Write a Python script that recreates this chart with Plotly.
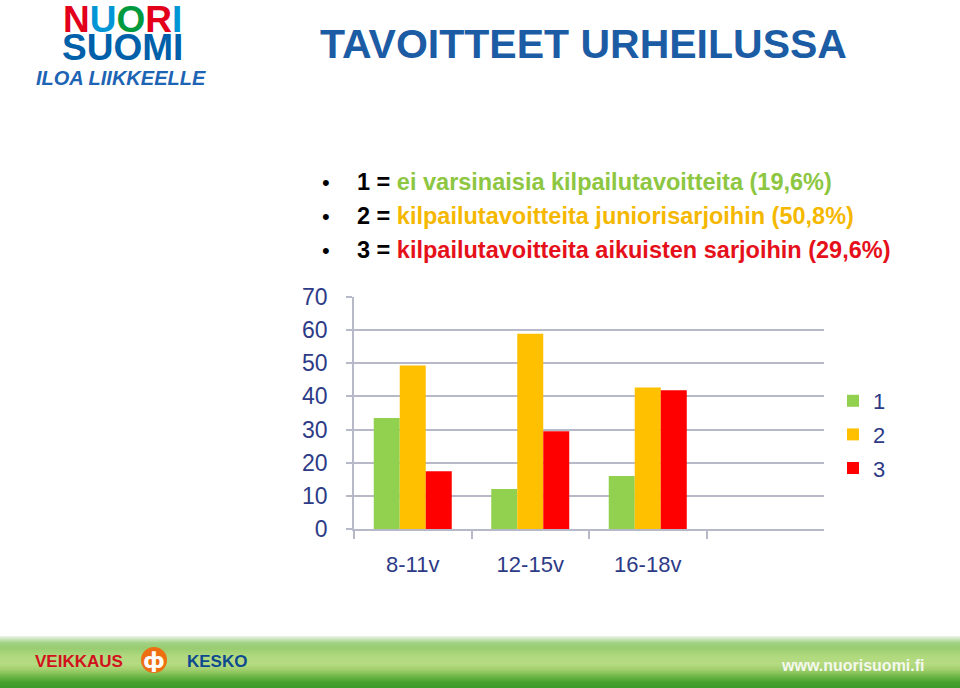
import plotly.graph_objects as go

W, H = 960, 688

categories = ["8-11v", "12-15v", "16-18v", " "]
series_names = ["1", "2", "3"]
values_1 = [33.5, 12.1, 16.0, None]
values_2 = [49.3, 58.9, 42.7, None]
values_3 = [17.4, 29.5, 41.9, None]
bar_colors = ["#92D050", "#FFC000", "#FF0000"]

y_ticks = [0, 10, 20, 30, 40, 50, 60, 70]

title_text = "TAVOITTEET URHEILUSSA"
bullet_labels = ["1 = ", "2 = ", "3 = "]
bullet_texts = [
    "ei varsinaisia kilpailutavoitteita (19,6%)",
    "kilpailutavoitteita juniorisarjoihin (50,8%)",
    "kilpailutavoitteita aikuisten sarjoihin (29,6%)",
]
bullet_colors = ["#8DC641", "#F5B800", "#E5101A"]

FONT = "Liberation Sans, Arial, sans-serif"
NAVY = "#2D3B87"
GRID = "#B7B9C9"


def px(x):
    return x / W


def py(y):
    return 1 - y / H


fig = go.Figure()
for name, vals, col in zip(series_names, [values_1, values_2, values_3], bar_colors):
    fig.add_trace(go.Bar(name=name, x=categories, y=vals, marker=dict(color=col, line=dict(width=0)),
                         legendgroup=name))

fig.update_layout(
    width=W, height=H,
    margin=dict(l=0, r=0, t=0, b=0, pad=0, autoexpand=False),
    paper_bgcolor="white", plot_bgcolor="white",
    barmode="group", bargap=0.336, bargroupgap=0,
    font=dict(family=FONT, color=NAVY),
    showlegend=True,
    legend=dict(x=px(833), y=py(380), xanchor="left", yanchor="top",
                font=dict(size=22, color=NAVY, family=FONT), traceorder="grouped",
                tracegroupgap=2, itemwidth=30, bgcolor="rgba(0,0,0,0)"),
    xaxis=dict(domain=[px(354), px(824)], type="category", categoryorder="array",
               categoryarray=categories, range=[-0.5, 3.5],
               showline=True, linecolor=GRID, linewidth=1.5,
               ticks="outside", tickson="boundaries", ticklen=8, tickcolor=GRID, tickwidth=1.5,
               tickfont=dict(size=22, color=NAVY, family=FONT), ticklabelstandoff=15,
               showgrid=False, zeroline=False, fixedrange=True, automargin=False),
    yaxis=dict(domain=[py(529), py(297)], range=[0, 70], tickvals=y_ticks,
               showline=True, linecolor=GRID, linewidth=1.5,
               ticks="outside", ticklen=6, tickcolor=GRID, tickwidth=1.5,
               showgrid=True, gridcolor=GRID, gridwidth=1.5, zeroline=False,
               tickfont=dict(size=23, color=NAVY, family=FONT), ticklabelstandoff=14,
               fixedrange=True, automargin=False),
)

annotations = []
shapes = []

# Title
annotations.append(dict(x=px(318), y=py(44), xref="paper", yref="paper", xanchor="left", yanchor="middle",
                        text="<b>" + title_text + "</b>", showarrow=False,
                        font=dict(size=41, color="#1C5CA5", family=FONT)))

# Bullet lines
bullet_y = [182, 216, 250]
for lab, txt, col, yy in zip(bullet_labels, bullet_texts, bullet_colors, bullet_y):
    annotations.append(dict(x=px(320), y=py(yy), xref="paper", yref="paper", xanchor="left", yanchor="middle",
                            text="•", showarrow=False, font=dict(size=22, color="black", family=FONT)))
    annotations.append(dict(x=px(355), y=py(yy), xref="paper", yref="paper", xanchor="left", yanchor="middle",
                            text="<b>" + lab + "<span style='color:" + col + "'>" + txt + "</span></b>",
                            showarrow=False, font=dict(size=23.5, color="black", family=FONT)))

# Logo NUORI SUOMI
nuori = [("N", "#E2001A"), ("U", "#0096D6"), ("O", "#009A3E"), ("R", "#E2001A"), ("I", "#0096D6")]
logo_txt = "".join("<span style='color:%s'>%s</span>" % (c, l) for l, c in nuori)
annotations.append(dict(x=px(122), y=py(19), xref="paper", yref="paper", xanchor="center", yanchor="middle",
                        text="<b>" + logo_txt + "</b>", showarrow=False, height=30,
                        font=dict(size=37, family=FONT)))
annotations.append(dict(x=px(122), y=py(47), xref="paper", yref="paper", xanchor="center", yanchor="middle",
                        text="<b>SUOMI</b>", showarrow=False, height=26,
                        font=dict(size=37, color="#0061AA", family=FONT)))
annotations.append(dict(x=px(121), y=py(78), xref="paper", yref="paper", xanchor="center", yanchor="middle",
                        text="<b><i>ILOA LIIKKEELLE</i></b>", showarrow=False,
                        font=dict(size=20, color="#1E64B4", family=FONT)))

# Footer gradient band (smooth, one row per pixel)
stops = [(636, (236, 242, 234)), (639, (205, 229, 190)), (643, (160, 210, 130)), (648, (152, 204, 112)),
         (656, (176, 217, 126)), (664, (182, 219, 130)), (670, (160, 206, 108)), (676, (112, 184, 72)),
         (682, (72, 162, 46)), (688, (58, 154, 40))]


def lerp_color(y):
    for (ya, ca), (yb, cb) in zip(stops[:-1], stops[1:]):
        if ya <= y <= yb:
            t = (y - ya) / (yb - ya)
            return "rgb(%d,%d,%d)" % tuple(round(a + (b - a) * t) for a, b in zip(ca, cb))
    return "rgb(%d,%d,%d)" % stops[-1][1]


for y0 in range(636, 688):
    shapes.append(dict(type="rect", xref="paper", yref="paper", x0=0, x1=1, y0=py(y0 + 1.2), y1=py(y0),
                       fillcolor=lerp_color(y0 + 0.5), line=dict(width=0), layer="below"))

annotations.append(dict(x=px(33), y=py(661), xref="paper", yref="paper", xanchor="left", yanchor="middle",
                        text="<b>VEIKKAUS</b>", showarrow=False,
                        font=dict(size=17, color="#D0121C", family=FONT)))
shapes.append(dict(type="circle", xref="paper", yref="paper", x0=px(141), x1=px(167), y0=py(673), y1=py(647),
                   fillcolor="#EE6E12", line=dict(width=0)))
annotations.append(dict(x=px(154), y=py(660), xref="paper", yref="paper", xanchor="center", yanchor="middle",
                        text="<b>ф</b>", showarrow=False,
                        font=dict(size=22, color="white", family="DejaVu Sans")))
annotations.append(dict(x=px(185), y=py(661), xref="paper", yref="paper", xanchor="left", yanchor="middle",
                        text="<b>KESKO</b>", showarrow=False,
                        font=dict(size=17, color="#0D4A8F", family=FONT)))
annotations.append(dict(x=px(927), y=py(665), xref="paper", yref="paper", xanchor="right", yanchor="middle",
                        text="<b>www.nuorisuomi.fi</b>", showarrow=False,
                        font=dict(size=16, color="#F4F8EE", family=FONT)))

fig.update_layout(annotations=annotations, shapes=shapes)

fig.write_html("out.html")
